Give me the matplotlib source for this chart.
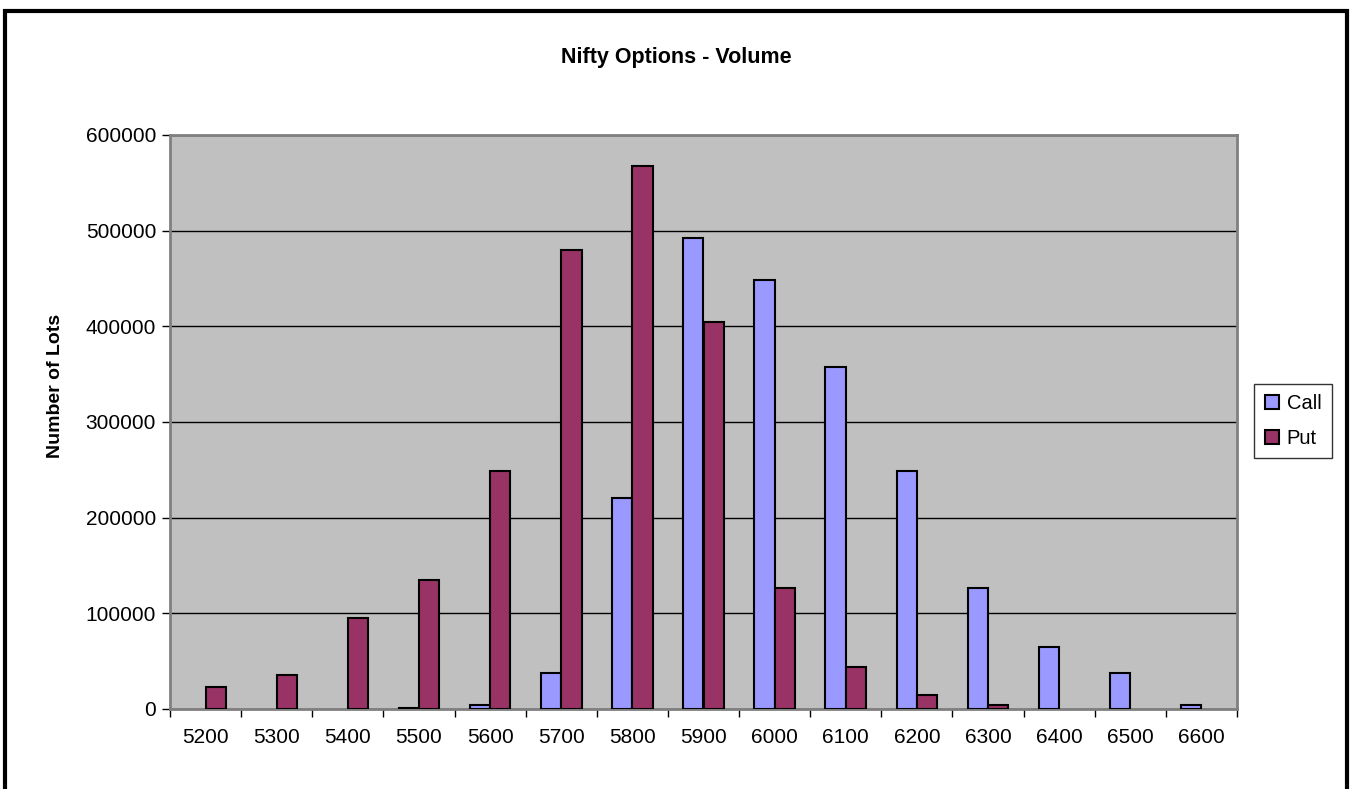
import numpy as np
import matplotlib
matplotlib.use('Agg')
import matplotlib.pyplot as plt
import matplotlib.patches as mpatches

plt.rcParams['font.family'] = ['Liberation Sans', 'DejaVu Sans']

# strike prices and volume (number of lots)
strikes = ['5200', '5300', '5400', '5500', '5600', '5700', '5800', '5900',
           '6000', '6100', '6200', '6300', '6400', '6500', '6600']
call_vol = [0, 0, 0, 1500, 4000, 38000, 221000, 492000,
            448000, 357000, 249000, 127000, 65000, 38000, 4000]
put_vol = [23000, 36000, 95000, 135000, 249000, 480000, 568000, 405000,
           127000, 44000, 15000, 4000, 0, 0, 0]
yticks = [0, 100000, 200000, 300000, 400000, 500000, 600000]

call_color = '#9999FF'
put_color = '#993366'

fig = plt.figure(figsize=(13.51, 7.89), dpi=100)
ax = fig.add_axes([170/1351, 1-709/789, (1237-170)/1351, (709-135)/789])
ax.set_facecolor('#C0C0C0')

x = np.arange(len(strikes))
w = 1/3.5
call = np.array(call_vol)
put = np.array(put_vol)
# excel leaves zero values out
ax.bar(x[call > 0] - w/2, call[call > 0], width=w, color=call_color, edgecolor='black', linewidth=1.5, zorder=3)
ax.bar(x[put > 0] + w/2, put[put > 0], width=w, color=put_color, edgecolor='black', linewidth=1.5, zorder=3)

ax.set_xlim(-0.5, len(strikes) - 0.5)
ax.set_ylim(0, 600000)
ax.set_yticks(yticks)
ax.set_yticklabels([str(v) for v in yticks], fontsize=15)
ax.set_xticks(x)
ax.set_xticklabels(strikes, fontsize=15)
ax.set_xticks(np.arange(-0.5, len(strikes)), minor=True)
ax.tick_params(axis='x', which='major', length=0, pad=14)
ax.tick_params(axis='x', which='minor', length=6, width=1, color='black', direction='out')
ax.tick_params(axis='y', length=6, width=1, color='black', direction='out', pad=4)

ax.yaxis.grid(True, color='black', linewidth=1, zorder=1)
ax.set_axisbelow(True)
for side in ['top', 'right', 'left', 'bottom']:
    ax.spines[side].set_color('#808080')
    ax.spines[side].set_linewidth(2)

ax.set_ylabel('Number of Lots', fontsize=14, fontweight='bold')
ax.yaxis.set_label_coords(-0.0994, 0.563)
fig.text(676/1351, 1-58/789, 'Nifty Options - Volume', ha='center', va='center',
         fontsize=15.5, fontweight='bold')

handles = [mpatches.Patch(facecolor=call_color, edgecolor='black', linewidth=1.5),
           mpatches.Patch(facecolor=put_color, edgecolor='black', linewidth=1.5)]
leg = fig.legend(handles, ['Call', 'Put'], loc='center', bbox_to_anchor=(1293/1351, 1-421/789),
                 fontsize=14.5, frameon=True, fancybox=False, edgecolor='black',
                 handlelength=0.7, handleheight=0.7, handletextpad=0.4,
                 borderpad=0.5, labelspacing=0.8, borderaxespad=0)
leg.get_frame().set_linewidth(1)

# outer chart border (bottom edge runs off the image)
fig.patches.append(mpatches.Rectangle((5/1351, -0.05), (1347-5)/1351, 1.05 - 11/789,
                                      transform=fig.transFigure, fill=False,
                                      edgecolor='black', linewidth=3, figure=fig))

fig.savefig('out.png', dpi=100)
